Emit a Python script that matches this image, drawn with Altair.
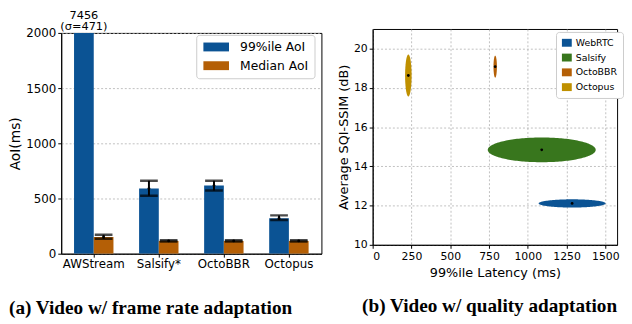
import altair as alt
import pandas as pd
import numpy as np

# ---------------- Left panel data ----------------
cats = ["AWStream", "Salsify*", "OctoBBR", "Octopus"]
metrics = ["99%ile AoI", "Median AoI"]
p99 = [7456, 590, 617, 322]
p99_lo = [6985, 525, 572, 305]
p99_hi = [7927, 660, 660, 347]
med = [152, 116, 116, 116]
med_lo = [135, 110, 111, 111]
med_hi = [172, 122, 121, 121]
ann_top = "7456"
ann_bot = "(σ=471)"

# ---------------- Right panel data ----------------
schemes = ["WebRTC", "Salsify", "OctoBBR", "Octopus"]
lat_c = [1286, 1090, 790, 230]
ssim_c = [12.11, 14.84, 19.08, 18.63]
lat_r = [216, 348, 11, 21]
ssim_r = [0.21, 0.63, 0.56, 1.07]

BLUE, ORANGE, GREEN, GOLD = "#0b5394", "#b45f06", "#38761d", "#bf9000"
FONT = "DejaVu Sans"

rows = []
for i, c in enumerate(cats):
    rows.append(dict(cat=c, metric=metrics[0], value=p99[i], lo=p99_lo[i], hi=p99_hi[i]))
    rows.append(dict(cat=c, metric=metrics[1], value=med[i], lo=med_lo[i], hi=med_hi[i]))
df = pd.DataFrame(rows)

xscale = alt.Scale(domain=cats, paddingInner=0.394, paddingOuter=0.197)
xenc = alt.X("cat:N", sort=cats, scale=xscale,
             axis=alt.Axis(title=None, labelAngle=0, labelFontSize=12, labelPadding=2))
xoff = alt.XOffset("metric:N", sort=metrics,
                   scale=alt.Scale(domain=metrics, paddingInner=0, paddingOuter=0))
yscale = alt.Scale(domain=[0, 2000], nice=False)

base = alt.Chart(df)
bars = base.mark_bar(clip=True).encode(
    x=xenc, xOffset=xoff,
    y=alt.Y("value:Q", scale=yscale,
            axis=alt.Axis(title="AoI(ms)", values=list(range(0, 2001, 250)), grid=True, format="d",
                          labelFontSize=12, titleFontSize=14, labelPadding=2, titlePadding=3)),
    color=alt.Color("metric:N", sort=metrics,
                    scale=alt.Scale(domain=metrics, range=[BLUE, ORANGE]),
                    legend=alt.Legend(title=None, orient="none", legendX=137, legendY=6,
                                      fillColor="white", strokeColor="#cccccc", cornerRadius=3,
                                      padding=6, symbolType="M-1,-0.9H4.2V0.9H-1Z",
                                      symbolSize=100, symbolStrokeWidth=0, labelFontSize=12.5,
                                      labelFont=FONT, labelOffset=26, rowPadding=6,
                                      labelColor="black")),
)
err = base.mark_rule(clip=True, color="black", strokeWidth=2).encode(
    x=xenc, xOffset=xoff, y=alt.Y("lo:Q", scale=yscale), y2="hi:Q")
cap_lo = base.mark_tick(clip=True, color="black", thickness=2.5, size=18).encode(
    x=xenc, xOffset=xoff, y=alt.Y("lo:Q", scale=yscale))
cap_hi = base.mark_tick(clip=True, color="black", thickness=2.5, size=18).encode(
    x=xenc, xOffset=xoff, y=alt.Y("hi:Q", scale=yscale))
dots = base.mark_point(clip=True, filled=True, color="black", size=8, opacity=1).encode(
    x=xenc, xOffset=xoff, y=alt.Y("value:Q", scale=yscale))

left = alt.layer(bars, err, cap_lo, cap_hi, dots).properties(
    width=264, height=224,
    title=alt.TitleParams("(a) Video w/ frame rate adaptation", orient="bottom", anchor="start",
                          frame="group", dx=-53, offset=30, font="Liberation Serif",
                          fontSize=19.5, fontWeight="bold", color="black"),
)

# annotation strip above the left panel (value of the clipped bar)
ann_df = pd.DataFrame([dict(cat=cats[0], t1=ann_top, t2=ann_bot)])
xenc_na = alt.X("cat:N", sort=cats, scale=xscale, axis=None)
ann1 = alt.Chart(ann_df).mark_text(fontSize=11.5, font=FONT, baseline="alphabetic", color="black",
                                   dx=-10).encode(x=xenc_na, y=alt.value(-10), text="t1:N")
ann2 = alt.Chart(ann_df).mark_text(fontSize=11.5, font=FONT, baseline="alphabetic", color="black",
                                   dx=-10).encode(x=xenc_na, y=alt.value(1.5), text="t2:N")
strip = alt.layer(ann1, ann2).properties(width=264, height=1,
                                         view=alt.ViewBackground(stroke=None))

left_col = alt.vconcat(strip, left, spacing=-7).resolve_scale(
    x="independent", xOffset="independent", y="independent")

# ---------------- Right panel ----------------
ell_rows = []
for i, s in enumerate(schemes):
    for t in np.linspace(0, np.pi, 90):
        ell_rows.append(dict(scheme=s, lat=lat_c[i] - lat_r[i] * np.cos(t),
                             lo=ssim_c[i] - ssim_r[i] * np.sin(t),
                             hi=ssim_c[i] + ssim_r[i] * np.sin(t)))
edf = pd.DataFrame(ell_rows)
cdf = pd.DataFrame(dict(scheme=schemes, lat=lat_c, ssim=ssim_c))

rx = alt.Scale(domain=[0, 1576], nice=False)
ry = alt.Scale(domain=[10, 21], nice=False)
xax = alt.Axis(title="99%ile Latency (ms)", values=list(range(0, 1501, 250)), grid=True, format="d",
               labelFontSize=11, titleFontSize=13, labelPadding=2, titlePadding=6)
yax = alt.Axis(title="Average SQI-SSIM (dB)", values=list(range(10, 21, 2)), grid=True,
               labelFontSize=11, titleFontSize=13, labelPadding=2, titlePadding=3)

ell = alt.Chart(edf).mark_area(orient="vertical").encode(
    x=alt.X("lat:Q", scale=rx, axis=xax),
    y=alt.Y("lo:Q", scale=ry, axis=yax, stack=None),
    y2="hi:Q",
    color=alt.Color("scheme:N", sort=schemes,
                    scale=alt.Scale(domain=schemes, range=[BLUE, GREEN, ORANGE, GOLD]),
                    legend=alt.Legend(title=None, orient="none", legendX=186, legendY=3,
                                      fillColor="white", strokeColor="#cccccc", cornerRadius=3,
                                      padding=6, symbolType="M-1,-0.8H1V0.8H-1Z",
                                      symbolSize=100, symbolStrokeWidth=0, labelFontSize=9.5,
                                      labelFont=FONT, labelOffset=4, rowPadding=5,
                                      labelColor="black")),
    detail="scheme:N",
)
cdots = alt.Chart(cdf).mark_point(filled=True, color="black", size=8, opacity=1).encode(
    x=alt.X("lat:Q", scale=rx), y=alt.Y("ssim:Q", scale=ry))

right = alt.layer(ell, cdots).properties(
    width=248, height=219,
    title=alt.TitleParams("(b) Video w/ quality adaptation", orient="bottom", anchor="end",
                          frame="group", dx=0, offset=18, font="Liberation Serif",
                          fontSize=19.5, fontWeight="bold", color="black"),
)

chart = alt.hconcat(left_col, right, spacing=15).resolve_scale(color="independent").properties(
    padding={"left": 0, "top": 0, "right": 0, "bottom": 0}
).configure_view(stroke="black", strokeWidth=1).configure_axis(
    labelFont=FONT, titleFont=FONT, labelColor="black", titleColor="black",
    tickColor="black", domainColor="black", tickSize=3.5, titleFontWeight="normal",
    gridColor="#b0b0b0", gridDash=[2, 2], gridWidth=0.8
).configure_axisX(grid=False).configure_axisQuantitative(grid=True)

chart.save("out.html", embed_options={"renderer": "svg", "actions": False})
